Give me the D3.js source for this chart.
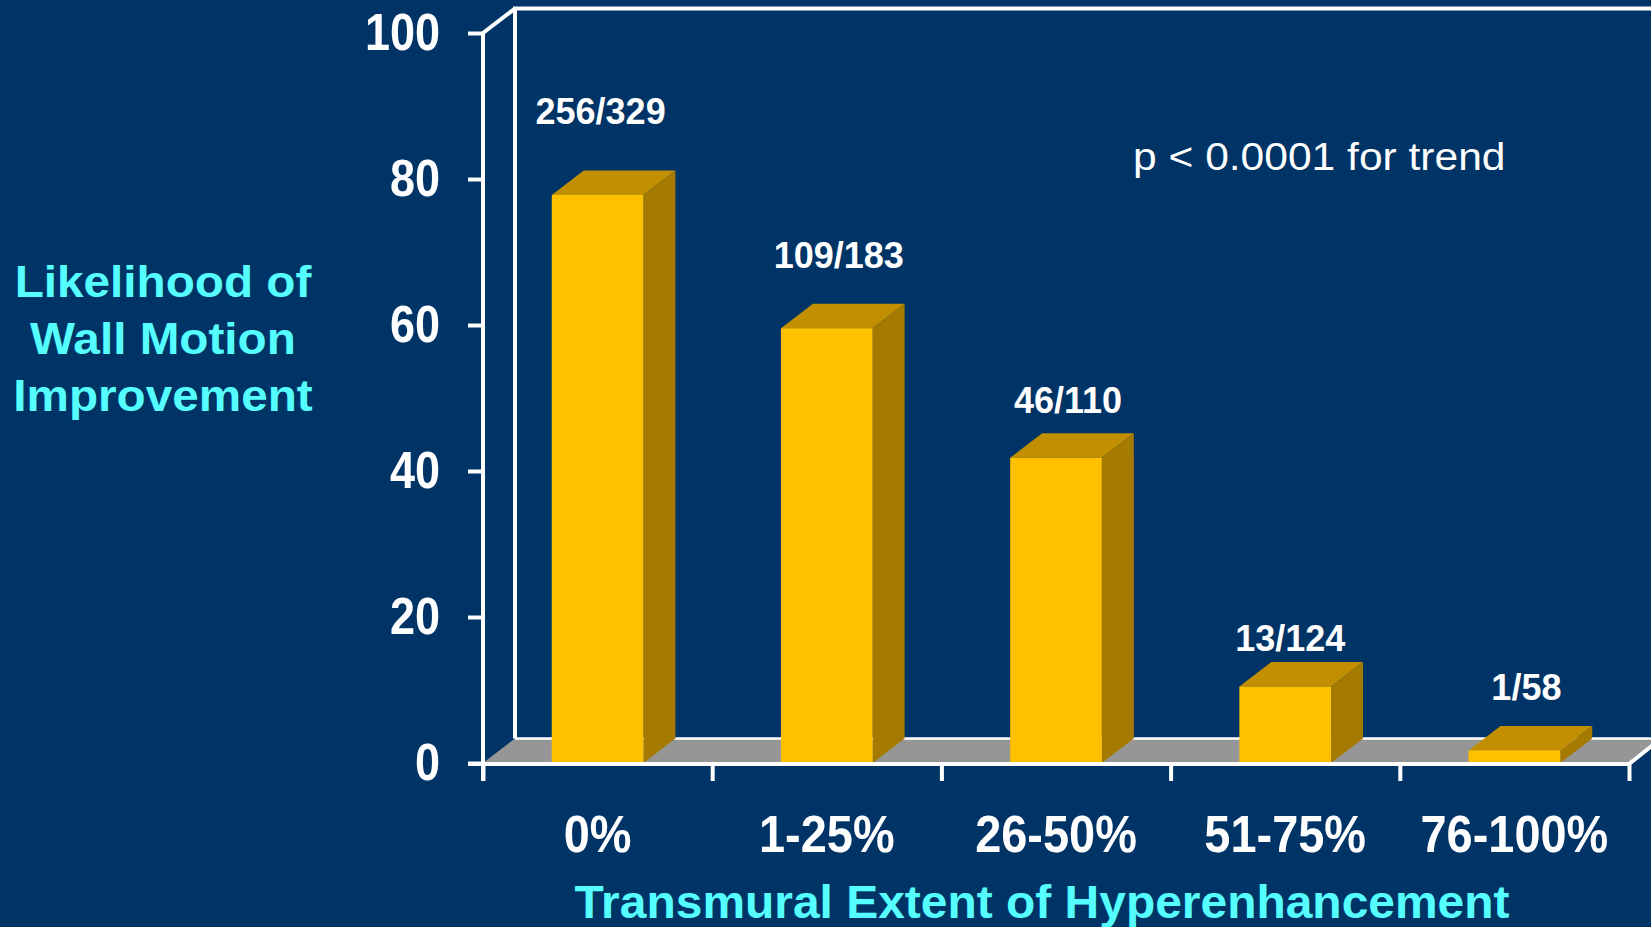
<!DOCTYPE html>
<html>
<head>
<meta charset="utf-8">
<script src="https://cdn.jsdelivr.net/npm/d3@7"></script>
<style>
  html, body { margin: 0; padding: 0; background: #003366; overflow: hidden; }
  svg { display: block; }
  text { font-family: "Liberation Sans", Arial, Helvetica, sans-serif; }
</style>
</head>
<body>
<svg id="chart" width="1651" height="927"></svg>
<script>
// ---- data ----
const categories = ["0%", "1-25%", "26-50%", "51-75%", "76-100%"];
const improved = [256, 109, 46, 13, 1];
const totals = [329, 183, 110, 124, 58];
const yTicks = [0, 20, 40, 60, 80, 100];
const yTitleLines = ["Likelihood of", "Wall Motion", "Improvement"];
const xTitle = "Transmural Extent of Hyperenhancement";
const note = "p < 0.0001 for trend";

// percentage of segments improving, per category
const pct = improved.map((n, i) => n / totals[i] * 100);

// ---- layout ----
const W = 1651, H = 927;
const plot = { left: 483, right: 1629, bottom: 763, top: 33 };
const depth = { dx: 32, dy: -24.5 };
// fraction labels: lift above the bar's front top edge, and horizontal nudge
const labelLift = [71, 60, 45, 35, 50];
const labelNudge = [3, 12, 12, 5, 12];

const colors = {
  bg: "#003366",
  front: "#FFC000",
  top: "#C28F00",
  side: "#A47A00",
  floor: "#969696",
  line: "#FFFFFF",
  title: "#55FFFF"
};

const svg = d3.select("#chart");
svg.append("rect").attr("width", W).attr("height", H).attr("fill", colors.bg);

const x = d3.scaleBand().domain(categories).range([plot.left, plot.right]).padding(0);
const edges = d3.scaleLinear().domain([0, categories.length]).range([plot.left, plot.right]);
const y = d3.scaleLinear().domain([0, 100]).range([plot.bottom, plot.top]);
const barW = x.bandwidth() * 0.40;
const barX = c => x(c) + (x.bandwidth() - barW) / 2;

// ---- floor ----
const y0 = y(0);
svg.append("polygon")
  .attr("points", [
    [plot.left, y0], [plot.right, y0],
    [plot.right + depth.dx, y0 + depth.dy], [plot.left + depth.dx, y0 + depth.dy]
  ].map(p => p.join(",")).join(" "))
  .attr("fill", colors.floor);

// ---- back wall outline ----
const wallTop = y(100) + depth.dy;
const bx = plot.left + depth.dx;
svg.append("path")
  .attr("d", `M${bx},${y0 + depth.dy} L${bx},${wallTop} L${W + 10},${wallTop}`)
  .attr("fill", "none").attr("stroke", colors.line).attr("stroke-width", 4);
svg.append("line")
  .attr("x1", bx).attr("x2", plot.right + depth.dx)
  .attr("y1", y0 + depth.dy).attr("y2", y0 + depth.dy)
  .attr("stroke", colors.line).attr("stroke-width", 2.5);
svg.append("line")
  .attr("x1", plot.left).attr("y1", y(100))
  .attr("x2", bx).attr("y2", wallTop)
  .attr("stroke", colors.line).attr("stroke-width", 4);

// ---- 3D bars ----
const bars = svg.append("g").selectAll("g.bar")
  .data(categories.map((c, i) => ({ c, v: pct[i], i })))
  .join("g").attr("class", "bar");

bars.append("polygon") // side face
  .attr("points", d => {
    const xr = barX(d.c) + barW, yt = y(d.v);
    return [[xr, yt], [xr + depth.dx, yt + depth.dy], [xr + depth.dx, y0 + depth.dy], [xr, y0]]
      .map(p => p.join(",")).join(" ");
  })
  .attr("fill", colors.side);

bars.append("polygon") // top face
  .attr("points", d => {
    const xl = barX(d.c), yt = y(d.v);
    return [[xl, yt], [xl + depth.dx, yt + depth.dy], [xl + barW + depth.dx, yt + depth.dy], [xl + barW, yt]]
      .map(p => p.join(",")).join(" ");
  })
  .attr("fill", colors.top);

bars.append("rect") // front face
  .attr("x", d => barX(d.c))
  .attr("y", d => y(d.v))
  .attr("width", barW)
  .attr("height", d => y0 - y(d.v))
  .attr("fill", colors.front);

// fraction labels
bars.append("text")
  .attr("x", d => barX(d.c) + barW / 2 + labelNudge[d.i])
  .attr("y", d => y(d.v) - labelLift[d.i])
  .attr("text-anchor", "middle")
  .attr("font-size", 36)
  .attr("font-weight", "bold")
  .attr("fill", "#FFFFFF")
  .text(d => `${improved[d.i]}/${totals[d.i]}`);

// ---- y axis ----
const yAxis = svg.append("g")
  .attr("transform", `translate(${plot.left},0)`)
  .call(d3.axisLeft(y).tickValues(yTicks).tickSize(15).tickPadding(28).tickFormat(d3.format("d")));
yAxis.select(".domain").remove();
yAxis.selectAll(".tick line").attr("stroke", colors.line).attr("stroke-width", 4);
yAxis.selectAll(".tick text")
  .attr("fill", "#FFFFFF")
  .attr("font-size", 45)
  .attr("font-weight", "bold")
  .attr("font-family", "'Liberation Sans', Arial, sans-serif")
  .attr("transform", "scale(1,1.14)");
svg.append("line")
  .attr("x1", plot.left).attr("x2", plot.left)
  .attr("y1", y(100)).attr("y2", y0 + 18)
  .attr("stroke", colors.line).attr("stroke-width", 4);

// ---- x axis ----
const xEdges = svg.append("g")
  .attr("transform", `translate(0,${y0})`)
  .call(d3.axisBottom(edges).tickValues(d3.range(categories.length + 1)).tickSize(18).tickFormat(""));
xEdges.select(".domain").remove();
xEdges.selectAll(".tick line").attr("stroke", colors.line).attr("stroke-width", 4);
svg.append("line")
  .attr("x1", plot.left - 15).attr("x2", plot.right)
  .attr("y1", y0 + 1).attr("y2", y0 + 1)
  .attr("stroke", colors.line).attr("stroke-width", 4);
svg.append("line")
  .attr("x1", plot.right).attr("y1", y0 + 1)
  .attr("x2", plot.right + depth.dx).attr("y2", y0 + depth.dy)
  .attr("stroke", colors.line).attr("stroke-width", 4);

const xLabels = svg.append("g")
  .attr("transform", `translate(0,${y0})`)
  .call(d3.axisBottom(x).tickSize(0));
xLabels.select(".domain").remove();
xLabels.selectAll(".tick text")
  .attr("y", 0).attr("dy", null)
  .attr("transform", "translate(0,89) scale(1.02,1.12)")
  .attr("fill", "#FFFFFF")
  .attr("font-size", 46)
  .attr("font-weight", "bold")
  .attr("font-family", "'Liberation Sans', Arial, sans-serif");

// ---- titles ----
const yTitle = svg.append("g");
yTitleLines.forEach((t, i) => {
  yTitle.append("text")
    .attr("transform", `translate(163,${297 + i * 57}) scale(1.06,1)`)
    .attr("text-anchor", "middle")
    .attr("font-size", 45)
    .attr("font-weight", "bold")
    .attr("fill", colors.title)
    .text(t);
});

svg.append("text")
  .attr("transform", "translate(1042,918) scale(1.02,1)")
  .attr("text-anchor", "middle")
  .attr("font-size", 47)
  .attr("font-weight", "bold")
  .attr("fill", colors.title)
  .text(xTitle);

svg.append("text")
  .attr("transform", "translate(1133,170) scale(1.12,1)")
  .attr("font-size", 38)
  .attr("fill", "#FFFFFF")
  .text(note);
</script>
</body>
</html>
